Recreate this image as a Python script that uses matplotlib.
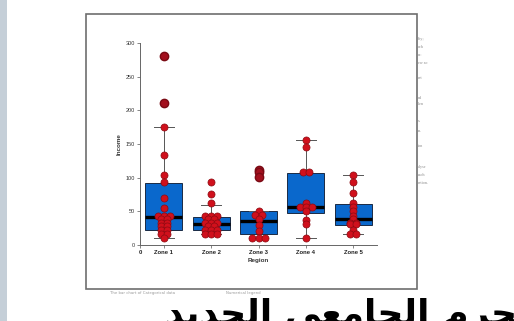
"""Slide snapshot: Income by Region box plot with swarm points."""
from collections import Counter

import matplotlib
matplotlib.use("Agg")
import matplotlib.pyplot as plt  # noqa: E402
from matplotlib.patches import Rectangle  # noqa: E402

zones = ["Zone 1", "Zone 2", "Zone 3", "Zone 4", "Zone 5"]
q1 = [23, 22, 17, 47, 29]
med = [41, 31, 36, 57, 38]
q3 = [92, 41, 51, 107, 61]
whislo = [11, 16, 11, 11, 16]
whishi = [175, 60, 50, 156, 104]
fliers = [[280, 211], [], [112, 109, 101], [], []]
points = [
    [175, 133, 104, 93, 70, 55, 43, 43, 43, 39, 39, 33, 33, 28, 28, 22, 22, 17, 17, 11],
    [93, 76, 62, 43, 43, 43, 39, 39, 33, 33, 33, 28, 28, 22, 22, 22, 17, 17, 17],
    [50, 45, 45, 39, 30, 21, 11, 11, 11],
    [156, 146, 109, 109, 62, 57, 57, 57, 50, 37, 31, 11],
    [104, 93, 77, 62, 57, 50, 43, 38, 33, 33, 31, 31, 22, 17, 17],
]
yticks = [0, 50, 100, 150, 200, 250, 300]

# word endings of the document page peeking out right of the chart
side_words = ["lity;", "uch", "es:", "ew so", "ect", "nd", "ken", "s.",
              "rs.", "ion", "alyse", "each", "ection."]
side_rows = [39, 47, 55, 63, 78, 98, 104, 121, 131, 146, 167, 175, 183]

# Arabic title line in presentation forms (visual order)
title_ar = ("\uFEAA\uFEF3\uFEAA\uFEA0\uFEDF\uFE8D " +
            "\uFEF2\uFECC\uFEE3\uFE8E\uFEA0\uFEDF\uFE8D " +
            "\uFEE1\uFEAE\uFEA4\uFEDF\uFE8D")

W, H = 514, 321
fig = plt.figure(figsize=(W / 100, H / 100), dpi=100)
fig.patch.set_facecolor("white")

# slide decorations
fig.add_artist(Rectangle((0, 0), 7 / W, 1, transform=fig.transFigure,
                         color="#c5cfd8", lw=0))
fig.add_artist(Rectangle((86 / W, 1 - 289 / H), 331 / W, 275 / H,
                         transform=fig.transFigure, fill=False,
                         ec="#6e6e6e", lw=1.2))
for word, row in zip(side_words, side_rows):
    fig.text(418 / W, 1 - row / H, word, fontsize=3, color="#8a8a8a",
             family="Liberation Serif", ha="left", va="center")
fig.text(110 / W, 1 - 293 / H, "The bar chart of Categorical data",
         fontsize=2.8, color="#9a9a9a", ha="left", va="center")
fig.text(226 / W, 1 - 293 / H, "Numerical legend", fontsize=2.8,
         color="#9a9a9a", ha="left", va="center")

ax = fig.add_axes([140 / W, 1 - 245 / H, 237 / W, 202 / H])
stats = []
for i in range(len(zones)):
    stats.append(dict(med=med[i], q1=q1[i], q3=q3[i], whislo=whislo[i],
                      whishi=whishi[i], fliers=fliers[i], label=zones[i]))
ax.bxp(stats, positions=range(1, 6), widths=0.78, patch_artist=True,
       boxprops=dict(facecolor="#0a68cc", edgecolor="#1a2a44", lw=0.7),
       medianprops=dict(color="black", lw=2.4),
       whiskerprops=dict(color="#555555", lw=0.7),
       capprops=dict(color="#555555", lw=0.7),
       flierprops=dict(marker="o", markersize=6, markerfacecolor="#a3101e",
                       markeredgecolor="#7a0a14"),
       capwidths=0.42)

# simple swarm: spread repeated values side by side
for i, vals in enumerate(points):
    cnt = Counter(vals)
    xs, ys = [], []
    for v, n in cnt.items():
        for k in range(n):
            xs.append(i + 1 + (k - (n - 1) / 2) * 0.13)
            ys.append(v)
    ax.scatter(xs, ys, s=26, color="#d0101c", edgecolor="#8a0a12",
               linewidth=0.5, zorder=4)

ax.set_xlim(0.5, 5.5)
ax.set_ylim(0, 300)
ax.set_xticks([0.5, 1, 2, 3, 4, 5])
ax.set_xticklabels(["0"] + zones, fontsize=4.2, fontweight="bold",
                   family="Liberation Sans", color="#222222")
ax.set_yticks(yticks)
ax.set_yticklabels([str(t) for t in yticks], fontsize=4,
                   family="Liberation Sans", color="#333333")
ax.tick_params(length=2, width=0.5, color="#555555", pad=1.5)
ax.set_xlabel("Region", fontsize=4.5, fontweight="bold",
              family="Liberation Sans", labelpad=2, color="#333333")
ax.set_ylabel("Income", fontsize=4.5, fontweight="bold",
              family="Liberation Sans", labelpad=3, color="#333333")
for s in ("top", "right"):
    ax.spines[s].set_visible(False)
for s in ("left", "bottom"):
    ax.spines[s].set_color("#666666")
    ax.spines[s].set_linewidth(0.7)

fig.text(165 / W, 1 - 298 / H, title_ar, fontsize=26, fontweight="bold",
         family="DejaVu Sans", ha="left", va="top", color="black")

fig.savefig("out.png", dpi=100)
